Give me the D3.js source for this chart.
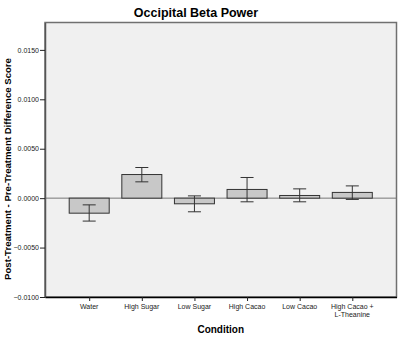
<!DOCTYPE html>
<html><head><meta charset="utf-8">
<script src="https://cdn.jsdelivr.net/npm/d3@7"></script>
<style>body{margin:0;background:#fff}svg{display:block}text{font-family:"Liberation Sans",Arial,sans-serif}</style>
</head><body>
<script>
const categories = ["Water","High Sugar","Low Sugar","High Cacao","Low Cacao","High Cacao +\nL-Theanine"];
const means = [-0.00152, 0.00239, -0.00057, 0.00088, 0.00027, 0.00058];
const errLow = [-0.00232, 0.00165, -0.00138, -0.00037, -0.00037, -0.00013];
const errHigh = [-0.00068, 0.0031, 0.00023, 0.00209, 0.00094, 0.00124];
const yTicks = [-0.01, -0.005, 0, 0.005, 0.01, 0.015];

const W = 400, H = 337;
const L = 45, R = 396.5, T = 22.5, B = 297;
const svg = d3.select("body").append("svg").attr("width", W).attr("height", H);

const y = d3.scaleLinear().domain([-0.01, 0.01777]).range([B, T]);
const x = d3.scalePoint().domain(categories).range([L, R]).padding(0.84);
const bw = 40, cap = 13;

svg.append("rect").attr("x", L).attr("y", T).attr("width", R - L).attr("height", B - T)
  .attr("fill", "#f0f0f0").attr("stroke", "#707070").attr("stroke-width", 1.5);

svg.append("line").attr("x1", L).attr("x2", R).attr("y1", y(0)).attr("y2", y(0))
  .attr("stroke", "#777").attr("stroke-width", 1);

svg.selectAll("rect.bar").data(categories).enter().append("rect").attr("class", "bar")
  .attr("x", d => x(d) - bw / 2)
  .attr("y", (d, i) => y(Math.max(0, means[i])))
  .attr("width", bw)
  .attr("height", (d, i) => Math.abs(y(means[i]) - y(0)))
  .attr("fill", "#c8c8c8").attr("stroke", "#333").attr("stroke-width", 1);

const eb = svg.selectAll("g.eb").data(categories).enter().append("g").attr("stroke", "#333").attr("stroke-width", 1);
eb.append("line").attr("x1", d => x(d)).attr("x2", d => x(d))
  .attr("y1", (d, i) => y(errLow[i])).attr("y2", (d, i) => y(errHigh[i]));
eb.append("line").attr("x1", d => x(d) - cap / 2).attr("x2", d => x(d) + cap / 2)
  .attr("y1", (d, i) => y(errLow[i])).attr("y2", (d, i) => y(errLow[i]));
eb.append("line").attr("x1", d => x(d) - cap / 2).attr("x2", d => x(d) + cap / 2)
  .attr("y1", (d, i) => y(errHigh[i])).attr("y2", (d, i) => y(errHigh[i]));

const ya = svg.append("g").attr("transform", `translate(${L},0)`)
  .call(d3.axisLeft(y).tickValues(yTicks).tickSize(5).tickSizeOuter(0).tickFormat(d3.format(".4f")));
ya.select(".domain").attr("stroke", "#555").attr("stroke-width", 1.5);
ya.selectAll(".tick line").attr("stroke", "#222");
ya.selectAll(".tick text").attr("font-size", 7).attr("fill", "#222").attr("x", -6)
  .attr("font-family", "'Liberation Sans',Arial,sans-serif");

const xa = svg.append("g").attr("transform", `translate(0,${B})`)
  .call(d3.axisBottom(x).tickSize(4).tickSizeOuter(0).tickFormat(""));
xa.select(".domain").attr("stroke", "#000").attr("stroke-width", 1.5);
xa.selectAll(".tick line").attr("stroke", "#222");
categories.forEach(c => {
  const lines = c.split("\n");
  const t = svg.append("text").attr("x", x(c)).attr("y", B + 12).attr("text-anchor", "middle")
    .attr("font-size", 7).attr("fill", "#222");
  lines.forEach((ln, j) => t.append("tspan").attr("x", x(c)).attr("dy", j ? 8 : 0).text(ln));
});

svg.append("text").attr("x", 196).attr("y", 17).attr("text-anchor", "middle")
  .attr("font-size", 12.5).attr("font-weight", "bold").text("Occipital Beta Power");
svg.append("text").attr("x", (L + R) / 2).attr("y", 333).attr("text-anchor", "middle")
  .attr("font-size", 10).attr("font-weight", "bold").text("Condition");
svg.append("text").attr("transform", `translate(11,169) rotate(-90)`).attr("text-anchor", "middle")
  .attr("font-size", 9.6).attr("font-weight", "bold").text("Post-Treatment - Pre-Treatment Difference Score");
</script>
</body></html>
